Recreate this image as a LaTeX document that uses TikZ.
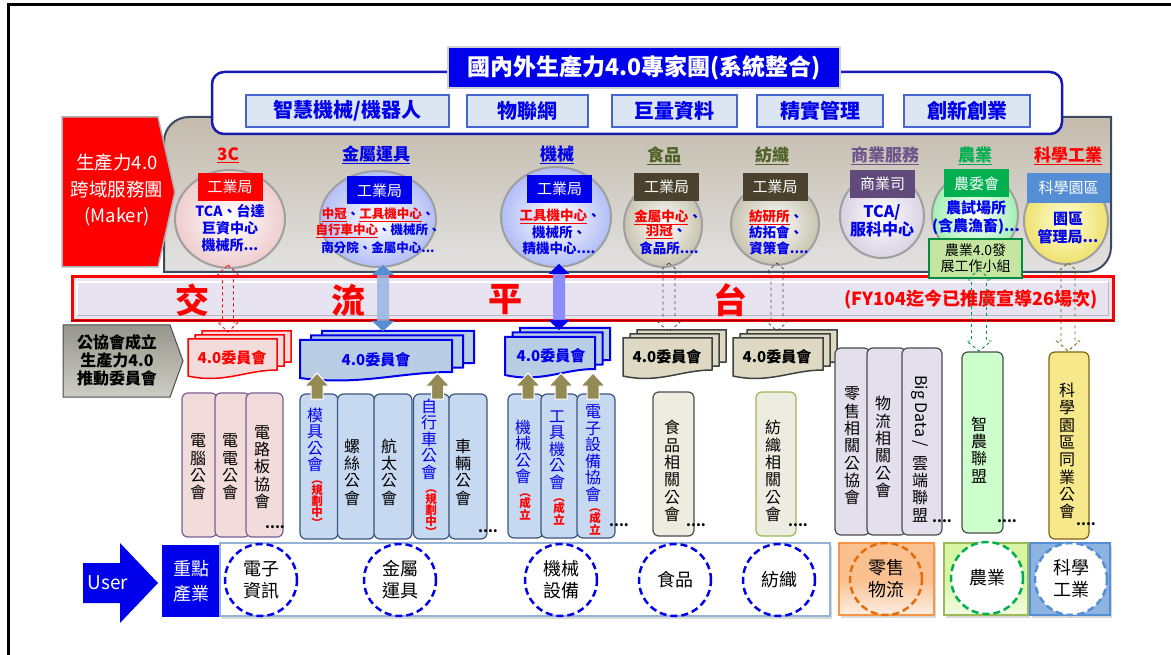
\documentclass[tikz,border=0pt]{standalone}
\usepackage{fontspec}
\setmainfont{Noto Sans CJK TC}
\usetikzlibrary{calc,shapes.geometric}
\definecolor{myblue}{RGB}{0,0,235}
\definecolor{tbF}{RGB}{220,230,242}
\definecolor{tbB}{RGB}{70,100,210}
\definecolor{ubB}{RGB}{25,25,180}
\definecolor{panB}{RGB}{60,75,95}
\definecolor{panT}{RGB}{196,187,172}
\definecolor{panL}{RGB}{226,226,226}
\definecolor{oliveT}{RGB}{79,98,40}
\definecolor{purT}{RGB}{110,85,140}
\definecolor{agG}{RGB}{0,176,80}
\definecolor{darkOrg}{RGB}{74,66,44}
\definecolor{purOrg}{RGB}{96,74,123}
\definecolor{sciB}{RGB}{85,142,213}
\definecolor{lav}{RGB}{232,227,240}
\definecolor{olv}{RGB}{148,138,84}
\definecolor{pinkF}{RGB}{242,220,219}
\definecolor{lbF}{RGB}{198,217,241}
\definecolor{lbF2}{RGB}{185,205,229}
\definecolor{lbB}{RGB}{60,85,125}
\definecolor{beF}{RGB}{238,236,225}
\definecolor{beF2}{RGB}{221,217,195}
\definecolor{lavF}{RGB}{228,223,236}
\definecolor{grF}{RGB}{204,255,204}
\definecolor{yeF}{RGB}{248,232,140}
\definecolor{yeB}{RGB}{127,100,20}
\definecolor{ag4F}{RGB}{196,230,160}
\definecolor{orF}{RGB}{250,192,144}
\definecolor{orB}{RGB}{247,150,70}
\definecolor{orD}{RGB}{228,108,10}
\definecolor{lgF}{RGB}{215,245,165}
\definecolor{lgB}{RGB}{155,187,89}
\definecolor{sbF}{RGB}{141,179,226}
\definecolor{wbB}{RGB}{149,179,215}
\definecolor{gpT}{RGB}{150,150,140}
\definecolor{gpB}{RGB}{205,205,195}
\definecolor{purB}{RGB}{120,95,150}
\definecolor{mshaft}{RGB}{140,140,255}
\definecolor{metshaft}{RGB}{150,182,228}
\definecolor{sciIn}{RGB}{255,255,215}
\definecolor{sciOut}{RGB}{238,225,110}
\definecolor{pinkOut}{RGB}{238,205,205}

\newcommand\fsz[1]{\fontsize{#1}{#1}\selectfont}
\newcommand\ru[1]{\textcolor{red}{\underline{#1}}}

\newcommand\docshape[5]{\draw[#1] ({#2},{#3}) -- ({#2+#4},{#3}) -- ({#2+#4},{#3+#5-6})
  .. controls ({#2+0.65*#4},{#3+#5-6}) and ({#2+0.4*#4},{#3+#5+8}) .. ({#2},{#3+#5}) -- cycle;}
\newcommand\docstack[7]{\docshape{#7}{#1+2*#5}{#2-2*#6}{#3}{#4}%
  \docshape{#7}{#1+#5}{#2-#6}{#3}{#4}\docshape{#7}{#1}{#2}{#3}{#4}}
\newcommand\dbarrow[5]{\path[#1] let \p1=(#2), \p2=(#3) in
  (\x2,\y1) -- ({\x2+#4},{\y1-10pt}) -- ({\x2+#5},{\y1-10pt}) -- ({\x2+#5},{\y2+10pt})
  -- ({\x2+#4},{\y2+10pt}) -- (\x2,\y2) -- ({\x2-#4},{\y2+10pt}) -- ({\x2-#5},{\y2+10pt})
  -- ({\x2-#5},{\y1-10pt}) -- ({\x2-#4},{\y1-10pt}) -- cycle;}
\newcommand\dbheads[4]{\path[#1] let \p1=(#2), \p2=(#3) in
  (\x2,\y1) -- ({\x2+#4},{\y1-10pt}) -- ({\x2-#4},{\y1-10pt}) -- cycle
  (\x2,\y2) -- ({\x2+#4},{\y2+10pt}) -- ({\x2-#4},{\y2+10pt}) -- cycle;}
\newcommand\uparr[2]{\path[oarr] let \p1=(#1.north) in
  ({\x1+#2-6pt},{\y1-5pt}) -- ({\x1+#2+6pt},{\y1-5pt}) -- ({\x1+#2+6pt},{\y1+8pt})
  -- ({\x1+#2+12pt},{\y1+8pt}) -- ({\x1+#2},{\y1+21pt}) -- ({\x1+#2-12pt},{\y1+8pt})
  -- ({\x1+#2-6pt},{\y1+8pt}) -- cycle;}

\begin{document}
\begin{tikzpicture}[x=1pt,y=-1pt,
  every node/.style={inner sep=0pt,outer sep=0pt},
  tbox/.style={draw=tbB,line width=1.2,fill=tbF,text=myblue,font=\fsz{20}\bfseries,minimum height=32},
  catl/.style={font=\fsz{17}\bfseries},
  org/.style={text=white,font=\fsz{15},minimum width=65,minimum height=28},
  ctx/.style={text=myblue,font=\fsz{13.5}\bfseries},
  bub/.style={ellipse,draw=gray!75,line width=2,inner color=white},
  colb/.style={rounded corners=6,line width=1.2},
  vtx/.style={align=center,font=\fontsize{16}{17.3}\selectfont},
  vtxs/.style={align=center,font=\fontsize{16}{16.5}\selectfont},
  vred/.style={align=center,text=red,font=\fontsize{11.5}{11}\selectfont\bfseries},
  dotsty/.style={font=\fsz{14}\bfseries},
  dcirc/.style={circle,minimum size=72,line width=2.5,dash pattern=on 7pt off 4pt,align=center,font=\fontsize{18}{22}\selectfont},
  oarr/.style={fill=olv,draw=white,line width=1},
  ktx/.style={font=\fsz{15}\bfseries},
]
\useasboundingbox (0,0) rectangle (1171,655);
\fill[white] (0,0) rectangle (1171,655);
\draw[line width=3] (8,655) -- (8,5) -- (1171,5);

% ---------- beige panel
\path[draw=panB,line width=2,top color=panT,bottom color=panL]
  (164,272) -- (164,142) .. controls (164,128) and (175,117) .. (189,117) -- (1111,117)
  -- (1111,247) .. controls (1111,261) and (1100,272) .. (1086,272) -- cycle;

% ---------- upper expert box
\node[draw=ubB,line width=2.5,fill=white,rounded corners=12,minimum width=850,minimum height=62] (upper) at (637,103) {};
\node[tbox,minimum width=203] (b1) at (347.5,111) {智慧機械/機器人};
\node[tbox,minimum width=121] (b2) at (527.5,111) {物聯網};
\node[tbox,minimum width=125] (b3) at (674.5,111) {巨量資料};
\node[tbox,minimum width=126] (b4) at (820,111) {精實管理};
\node[tbox,minimum width=126] (b5) at (967,111) {創新創業};
\node[fill=myblue,draw=gray!35,line width=2.5,text=white,font=\fsz{23}\bfseries,minimum width=392,minimum height=41] (title) at (644,67.5) {國內外生產力4.0專家團(系統整合)};

% ---------- Maker pentagon
\path[fill=red,draw=gray!60,line width=1.5] (62,117) -- (158,117) -- (175,192) -- (158,267) -- (62,267) -- cycle;
\node[text=white,align=center,font=\fontsize{18.5}{26.5}\selectfont] (maker) at (117,190) {生產力4.0\\跨域服務團\\(Maker)};

% ---------- category labels
\node[catl,text=red] (l1) at (228,155) {\underline{3C}};
\node[catl,text=myblue] (l2) at (376,155) {\underline{金屬運具}};
\node[catl,text=myblue] (l3) at (557,155) {\underline{機械}};
\node[catl,text=oliveT] (l4) at (664,156) {\underline{食品}};
\node[catl,text=oliveT] (l5) at (772,156) {\underline{紡織}};
\node[catl,text=purT] (l6) at (885,156) {\underline{商業服務}};
\node[catl,text=agG] (l7) at (975,156) {\underline{農業}};
\node[catl,text=red] (l8) at (1068,156) {\underline{科學工業}};

% ---------- bubbles
\node[bub,outer color=pinkOut,minimum width=110,minimum height=98] (c3C) at (230,219) {};
\node[bub,outer color=lbF!80!blue!80!white,minimum width=116,minimum height=96] (cMetal) at (378,219) {};
\node[bub,outer color=lbF!80!blue!80!white,minimum width=110,minimum height=100] (cMach) at (556,217) {};
\node[bub,outer color=beF2!90!black,minimum width=78,minimum height=84] (cFood) at (663,225) {};
\node[bub,outer color=beF2!90!black,minimum width=88,minimum height=82] (cText) at (775,224) {};
\node[bub,outer color=lavF!90!purT,minimum width=84,minimum height=84] (cComm) at (882,216) {};
\node[bub,outer color=grF!80!agG,minimum width=86,minimum height=84] (cAgri) at (975,215) {};
\node[bub,inner color=sciIn,outer color=sciOut,minimum width=84,minimum height=86] (cSci) at (1066,221) {};

% org boxes
\node[org,fill=red] (o1) at (230,187) {工業局};
\node[org,fill=myblue] (o2) at (379.5,190.5) {工業局};
\node[org,fill=myblue] (o3) at (559.5,189) {工業局};
\node[org,fill=darkOrg] (o4) at (666.5,187) {工業局};
\node[org,fill=darkOrg] (o5) at (775,187) {工業局};
\node[org,fill=purOrg] (o6) at (882.5,184) {商業司};
\node[org,fill=agG] (o7) at (976.5,183.5) {農委會};
\node[org,fill=sciB,minimum width=83,minimum height=30] (o8) at (1068.5,188) {科學園區};

% bubble texts
\node[ctx,font=\fsz{14}\bfseries] (t11) at (230,211) {TCA、台達};
\node[ctx,font=\fsz{14}\bfseries] (t12) at (230,228) {巨資中心};
\node[ctx,font=\fsz{14}\bfseries] (t13) at (230,245) {機械所...};
\node[ctx,font=\fsz{12.5}\bfseries] (t21) at (378,215) {\ru{中冠}、\ru{工具機中心}、};
\node[ctx,font=\fsz{12.5}\bfseries] (t22) at (378,231) {\ru{自行車中心}、機械所、};
\node[ctx,font=\fsz{12.5}\bfseries] (t23) at (378,248) {南分院、金屬中心...};
\node[ctx] (t31) at (560,216) {\ru{工具機中心}、};
\node[ctx] (t32) at (559,232) {機械所、};
\node[ctx] (t33) at (559,248) {精機中心....};
\node[ctx] (t41) at (668,217) {\ru{金屬中心}、};
\node[ctx] (t42) at (666,232) {\ru{羽冠}、};
\node[ctx] (t43) at (669,248) {食品所....};
\node[ctx] (t51) at (776,217) {\ru{紡研所}、};
\node[ctx] (t52) at (776,232) {紡拓會、};
\node[ctx] (t53) at (779,248) {資策會....};
\node[ctx,font=\fsz{16}\bfseries] (t61) at (882,212) {TCA/};
\node[ctx,font=\fsz{16}\bfseries] (t62) at (882,229) {服科中心};
\node[ctx,font=\fsz{15}\bfseries] (t71) at (976,208) {農試場所};
\node[ctx,font=\fsz{15}\bfseries] (t72) at (976,227) {(含農漁畜)...};
\node[ctx,font=\fsz{15}\bfseries] (t81) at (1068,219) {園區};
\node[ctx,font=\fsz{15}\bfseries] (t82) at (1068,237) {管理局...};

% ---------- exchange bar
\node[draw=red,line width=3,fill=lav,minimum width=1041,minimum height=44] (bar) at (592.5,299) {};
\draw[white,line width=1.5] (77,316) -- (77,282) -- (1108,282);
\draw[gray!55,line width=1] (1108,282) -- (1108,316) -- (77,316);
\draw[red!60!black,line width=1.5] (71,320.5) -- (1114,320.5);
\node[text=red,font=\fsz{34}\bfseries] (x1) at (192,300) {交};
\node[text=red,font=\fsz{34}\bfseries] (x2) at (348,300) {流};
\node[text=red,font=\fsz{34}\bfseries] (x3) at (505,300) {平};
\node[text=red,font=\fsz{34}\bfseries] (x4) at (730,300) {台};
\node[text=red,font=\fsz{18}\bfseries] (x5) at (971,300) {(FY104迄今已推廣宣導26場次)};

% agri 4.0 group box
\node[draw=agG!80!black,line width=2,fill=ag4F,align=center,font=\fontsize{14}{16}\selectfont,minimum width=93,minimum height=39] (ag) at (975.5,258.5) {農業4.0發\\展工作小組};

% ---------- left grey pentagon
\path[draw=gray!60!black,line width=1,top color=gpT,bottom color=gpB] (63,325) -- (170,325) -- (183,361) -- (170,397) -- (63,397) -- cycle;
\node[align=center,font=\fontsize{16}{18}\selectfont\bfseries] (gp) at (117,360) {公協會成立\\生產力4.0\\推動委員會};

% ---------- committee stacks
\docstack{188}{339}{89}{37}{7}{4}{fill=pinkF,draw=red,line width=1.5}
\node[ktx,text=red] (k1) at (232,358) {4.0委員會};
\docstack{300}{340}{152}{38}{11}{4.5}{fill=lbF2,draw=myblue,line width=2}
\node[ktx,text=myblue] (k2) at (376,360) {4.0委員會};
\docstack{505}{337}{90}{38}{7.5}{4.5}{fill=lbF2,draw=myblue,line width=2}
\node[ktx,text=myblue] (k3) at (551,356) {4.0委員會};
\docstack{623}{338}{89}{38}{7}{4}{fill=beF2,draw=black!75,line width=1.5}
\node[ktx] (k4) at (667,357) {4.0委員會};
\docstack{733}{338}{90}{38}{7}{4}{fill=beF2,draw=black!75,line width=1.5}
\node[ktx] (k5) at (777,357) {4.0委員會};
\coordinate (kk1) at (228,332);
\coordinate (kk2) at (383,331);
\coordinate (kk3) at (559,330);
\coordinate (kk4) at (669,332);
\coordinate (kk5) at (777,331);

% ---------- association columns
\node[colb,fill=pinkF,draw=purB,minimum width=35,minimum height=144] (e1) at (199.5,465) {};
\node[colb,fill=pinkF,draw=purB,minimum width=35,minimum height=144] (e2) at (232.5,465) {};
\node[colb,fill=pinkF,draw=purB,minimum width=37,minimum height=144] (e3) at (264.5,465) {};
\node[vtx] (te1) at (198,467) {電\\腦\\公\\會};
\node[vtx] (te2) at (230,467) {電\\電\\公\\會};
\node[vtx] (te3) at (262,467) {電\\路\\板\\協\\會};
\node[dotsty] (de) at (275,527) {....};

\node[colb,fill=lbF,draw=lbB,minimum width=38,minimum height=145] (m1) at (319,466.5) {};
\node[colb,fill=lbF,draw=lbB,minimum width=37,minimum height=145] (m2) at (356,466.5) {};
\node[colb,fill=lbF,draw=lbB,minimum width=38,minimum height=145] (m3) at (393,466.5) {};
\node[colb,fill=lbF,draw=lbB,minimum width=36,minimum height=145] (m4) at (431.5,466.5) {};
\node[colb,fill=lbF,draw=lbB,minimum width=38,minimum height=145] (m5) at (468,466.5) {};
\node[vtxs,text=myblue] (tm1) at (315,440) {模\\具\\公\\會};
\node[vred] (rm1) at (317,504) {︵\\規\\劃\\中\\︶};
\node[vtx] (tm2) at (352,472) {螺\\絲\\公\\會};
\node[vtx] (tm3) at (389,472) {航\\太\\公\\會};
\node[vtxs,text=myblue] (tm4) at (429,439) {自\\行\\車\\公\\會};
\node[vred] (rm4) at (431,513) {︵\\規\\劃\\中\\︶};
\node[vtx] (tm5) at (463,472) {車\\輛\\公\\會};
\node[dotsty] (dm) at (488,531) {....};

\node[colb,fill=lbF,draw=lbB,minimum width=35,minimum height=144] (q1) at (525.5,466) {};
\node[colb,fill=lbF,draw=lbB,minimum width=37,minimum height=144] (q2) at (559.5,466) {};
\node[colb,fill=lbF,draw=lbB,minimum width=38,minimum height=144] (q3) at (596,466) {};
\node[vtxs,text=myblue] (tq1) at (523,452) {機\\械\\公\\會};
\node[vred] (rq1) at (525,507) {︵\\成\\立};
\node[vtxs,text=myblue] (tq2) at (557,450) {工\\具\\機\\公\\會};
\node[vred] (rq2) at (559,512) {︵\\成\\立};
\node[vtxs,text=myblue] (tq3) at (593,453) {電\\子\\設\\備\\協\\會};
\node[vred] (rq3) at (595,522) {︵\\成\\立};
\node[dotsty] (dq) at (619,525) {....};

\node[colb,fill=beF,draw=black!70,minimum width=41,minimum height=144] (f1) at (673.5,464) {};
\node[vtx] (tf1) at (672,471) {食\\品\\相\\關\\公\\會};
\node[dotsty] (df) at (696,525) {....};
\node[colb,fill=beF,draw=lgB,minimum width=40,minimum height=144] (g1) at (776,464) {};
\node[vtx] (tg1) at (773,471) {紡\\織\\相\\關\\公\\會};
\node[dotsty] (dg) at (798,525) {....};

\node[colb,fill=lavF,draw=black!70,minimum width=35,minimum height=187] (r1) at (852.5,441.5) {};
\node[colb,fill=lavF,draw=black!70,minimum width=39,minimum height=187] (r2) at (886.5,441.5) {};
\node[colb,fill=lavF,draw=black!70,minimum width=40,minimum height=187] (r3) at (922,441.5) {};
\node[vtx] (tr1) at (852,446) {零\\售\\相\\關\\公\\協\\會};
\node[vtx] (tr2) at (883,447) {物\\流\\相\\關\\公\\會};
\node[rotate=-90,font=\fsz{16}] (tr3a) at (920,411) {Big Data /};
\node[vtx] (tr3b) at (920,489) {雲\\端\\聯\\盟};
\node[dotsty] (dr) at (942,521) {....};

\node[colb,fill=grF,draw=black!70,minimum width=41,minimum height=181] (a1) at (982.5,442.5) {};
\node[vtx] (ta1) at (979,450) {智\\農\\聯\\盟};
\node[dotsty] (da) at (1007,521) {....};
\node[colb,fill=yeF,draw=yeB,minimum width=40,minimum height=187] (s1) at (1069,445.5) {};
\node[vtx] (ts1) at (1067,451) {科\\學\\園\\區\\同\\業\\公\\會};
\node[dotsty] (ds) at (1086,524) {....};
\coordinate (kk7) at (979,351);
\coordinate (kk8) at (1068,351);

% ---------- olive up arrows
\uparr{m1}{-2pt}
\uparr{m4}{6pt}
\uparr{q1}{2.5pt}
\uparr{q2}{1.5pt}
\uparr{q3}{-3pt}

% ---------- connectors through the platform
\dbarrow{draw=red,dashed,line width=0.8}{$(c3C.south)+(0,-3)$}{kk1}{10.5pt}{5.5pt}
\dbarrow{fill=metshaft,opacity=0.85}{$(cMetal.south)+(0,-2)$}{kk2}{11pt}{6pt}
\dbheads{fill=sciB}{$(cMetal.south)+(0,-2)$}{kk2}{11pt}
\dbarrow{fill=mshaft}{$(cMach.south)+(0,-3)$}{kk3}{10.5pt}{6pt}
\dbheads{fill=myblue}{$(cMach.south)+(0,-3)$}{kk3}{10.5pt}
\dbarrow{draw=black!70,dashed,line width=0.8}{$(cFood.south)+(0,-4)$}{kk4}{11pt}{6pt}
\dbarrow{draw=black!70,dashed,line width=0.8}{$(cText.south)+(0,-2)$}{kk5}{11pt}{6pt}
\dbarrow{draw=agG!85!black,dashed,line width=0.9}{$(ag.south)+(0,-8)$}{kk7}{12.5pt}{7.5pt}
\dbarrow{draw=yeB,dashed,line width=0.9}{$(cSci.south)+(0,-1)$}{kk8}{11.5pt}{7pt}

% ---------- bottom row
\path[fill=myblue] (83,563) -- (120,563) -- (120,543) -- (158,583) -- (120,623) -- (120,603) -- (83,603) -- cycle;
\node[text=white,font=\fsz{19}] (user) at (108,583) {User};
\node[fill=myblue,text=white,align=center,font=\fontsize{18}{25}\selectfont,minimum width=58,minimum height=72] (key) at (191,581) {重點\\產業};
\fill[gray!30] (222,546) rectangle (832,619);
\node[draw=wbB,line width=1.5,fill=white,minimum width=610,minimum height=73] (wb) at (525,579.5) {};
\fill[gray!30] (841,546) rectangle (936,618);
\node[draw=orB,line width=1.2,top color=orF,bottom color=orF!25,middle color=orF,minimum width=95,minimum height=72] (ob) at (886.5,579) {};
\fill[gray!30] (946,546) rectangle (1030,618);
\node[draw=lgB,line width=1.2,top color=lgF,bottom color=lgF!30,middle color=lgF,minimum width=84,minimum height=72] (gb) at (986,579) {};
\fill[gray!30] (1032,546) rectangle (1112,618);
\node[draw=sciB,line width=1.2,fill=sbF,minimum width=80,minimum height=72] (sb) at (1070,579) {};

\node[dcirc,draw=myblue] (d1) at (261,580) {電子\\資訊};
\node[dcirc,draw=myblue] (d2) at (400,580) {金屬\\運具};
\node[dcirc,draw=myblue] (d3) at (561,580) {機械\\設備};
\node[dcirc,draw=myblue] (d4) at (675,580) {食品};
\node[dcirc,draw=myblue] (d5) at (779,580) {紡織};
\node[dcirc,draw=orD] (d6) at (886,579) {零售\\物流};
\node[dcirc,draw=agG,fill=white] (d7) at (987,578) {農業};
\node[dcirc,draw=sciB,fill=white] (d8) at (1071,579) {科學\\工業};
\end{tikzpicture}
\end{document}
